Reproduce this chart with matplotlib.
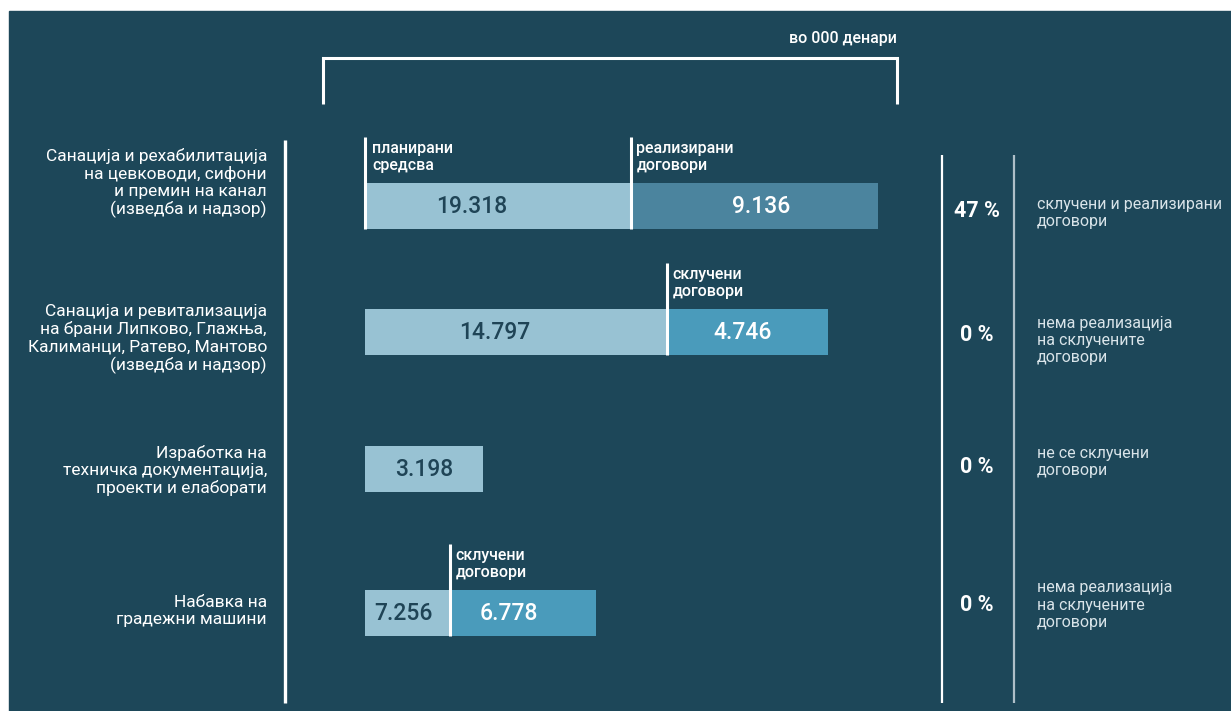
import matplotlib
matplotlib.use("Agg")
import matplotlib.pyplot as plt
import matplotlib.transforms as mtransforms
from matplotlib.patches import Rectangle

plt.rcParams['font.family'] = ['Roboto', 'DejaVu Sans']

# ---- data (in 000 denars) ----
projects = ["Санација и рехабилитација\nна цевководи, сифони\nи премин на канал\n(изведба и надзор)",
            "Санација и ревитализација\nна брани Липково, Глажња,\nКалиманци, Ратево, Мантово\n(изведба и надзор)",
            "Изработка на\nтехничка документација,\nпроекти и елаборати",
            "Набавка на\nградежни машини"]
planned_labels = ["19.318", "14.797", "3.198", "7.256"]
contract_labels = ["9.136", "4.746", "", "6.778"]
# bar lengths as drawn in the infographic (not to scale with the labels)
bar_total = [19.32, 17.43, 4.44, 8.70]
bar_contract = [9.30, 6.06, 0.0, 5.50]
contract_kind = ["реализирани\nдоговори", "склучени\nдоговори", "", "склучени\nдоговори"]
percent = ["47 %", "0 %", "0 %", "0 %"]
status = ["склучени и реализирани\nдоговори",
          "нема реализација\nна склучените\nдоговори",
          "не се склучени\nдоговори",
          "нема реализација\nна склучените\nдоговори"]

BG = "#1d4759"
LIGHT = "#98c2d3"
REALIZED = "#4b849e"
CONTRACT = "#4a9bbb"
DARKTXT = "#1f4456"

W, H = 1231, 711
fig = plt.figure(figsize=(W / 100, H / 100), dpi=100)
fig.patch.set_facecolor("white")

# background / decoration axes in pixel units
bg = fig.add_axes([0, 0, 1, 1])
bg.set_xlim(0, W)
bg.set_ylim(H, 0)
bg.axis("off")
bg.add_patch(Rectangle((9, 11), W - 9, H - 11, color=BG, zorder=0))

# bar axes: x in value units, y in rows
px_per_unit = 26.56
x0 = 365
ax = fig.add_axes([0, 0, 1, 1])
ax.set_xlim(-x0 / px_per_unit, (W - x0) / px_per_unit)
row_px = 135.67
row_pos = [0, 0.93, 1.94, 3.0]
ax.set_ylim((H - 206) / row_px, -206 / row_px)
ax.axis("off")
ax.patch.set_alpha(0)

bh = 46 / row_px
ax.barh(row_pos, bar_total, height=bh, color=LIGHT, zorder=2)
contract_colors = [REALIZED, CONTRACT, CONTRACT, CONTRACT]
lefts = [t - c for t, c in zip(bar_total, bar_contract)]
ax.barh(row_pos, bar_contract, left=lefts, height=bh, color=contract_colors, zorder=2)

# value labels (planned one sits a little left of centre, as in the original)
planned_nudge = [-1.0, -0.8, 0.0, -0.15]
contract_nudge = [0.25, -0.2, 0.0, -0.55]
for i, y in enumerate(row_pos):
    light_w = bar_total[i] - bar_contract[i]
    ax.text(light_w / 2 + planned_nudge[i], y, planned_labels[i], ha="center", va="center",
            fontsize=16.5, fontweight="medium", color=DARKTXT, zorder=4)
    if contract_labels[i]:
        ax.text(lefts[i] + bar_contract[i] / 2 + contract_nudge[i], y, contract_labels[i],
                ha="center", va="center", fontsize=16.5, fontweight="medium", color="white", zorder=4)

# marker lines with small captions above the bars
line_top = -69 / row_px
cap_y = -49 / row_px
ax.plot([0, 0], [row_pos[0] + bh / 2, row_pos[0] + line_top], color="white", lw=2.2, zorder=3,
        solid_capstyle="butt")
ax.text(0.27, row_pos[0] + cap_y, "планирани\nсредсва", ha="left", va="center", fontsize=11.5,
        fontweight="medium", color="white", linespacing=1.18)
for i, y in enumerate(row_pos):
    if not contract_kind[i]:
        continue
    ax.plot([lefts[i], lefts[i]], [y + bh / 2, y + line_top], color="white", lw=2.2, zorder=3,
            solid_capstyle="butt")
    ax.text(lefts[i] + 0.2, y + cap_y, contract_kind[i], ha="left", va="center", fontsize=11.5,
            fontweight="medium", color="white", linespacing=1.18)

# row texts: x in pixels, y in rows
tr = mtransforms.blended_transform_factory(bg.transData, ax.transData)
label_shift = [-23, 7, 1, -2]
for i, y in enumerate(row_pos):
    ax.text(267, y + label_shift[i] / row_px, projects[i], transform=tr, ha="right", va="center",
            fontsize=12.5, color="white", linespacing=1.17)
pct_shift = [5, 3, -2, -8]
for i, y in enumerate(row_pos):
    ax.text(977, y + pct_shift[i] / row_px, percent[i], transform=tr, ha="center", va="center",
            fontsize=15.5, fontweight="bold", color="white")
desc_shift = [7, 8, -7, -8]
for i, y in enumerate(row_pos):
    ax.text(1037, y + desc_shift[i] / row_px, status[i], transform=tr, ha="left", va="center",
            fontsize=11.5, color="#d9e4e9", linespacing=1.17)

# frame lines
bg.plot([285, 285], [140, 703], color="white", lw=2.4, solid_capstyle="butt")
bg.plot([942, 942], [155, 703], color="white", lw=1.6, solid_capstyle="butt")
bg.plot([1014, 1014], [155, 703], color="#aebfc8", lw=1.6, solid_capstyle="butt")
bg.plot([323, 323, 897, 897], [104, 58, 58, 104], color="white", lw=2.2,
        solid_joinstyle="miter", solid_capstyle="butt")
bg.text(897, 38, "во 000 денари", ha="right", va="center", fontsize=11.5,
        fontweight="medium", color="white")

fig.savefig("out.png", dpi=100, facecolor=fig.get_facecolor())
